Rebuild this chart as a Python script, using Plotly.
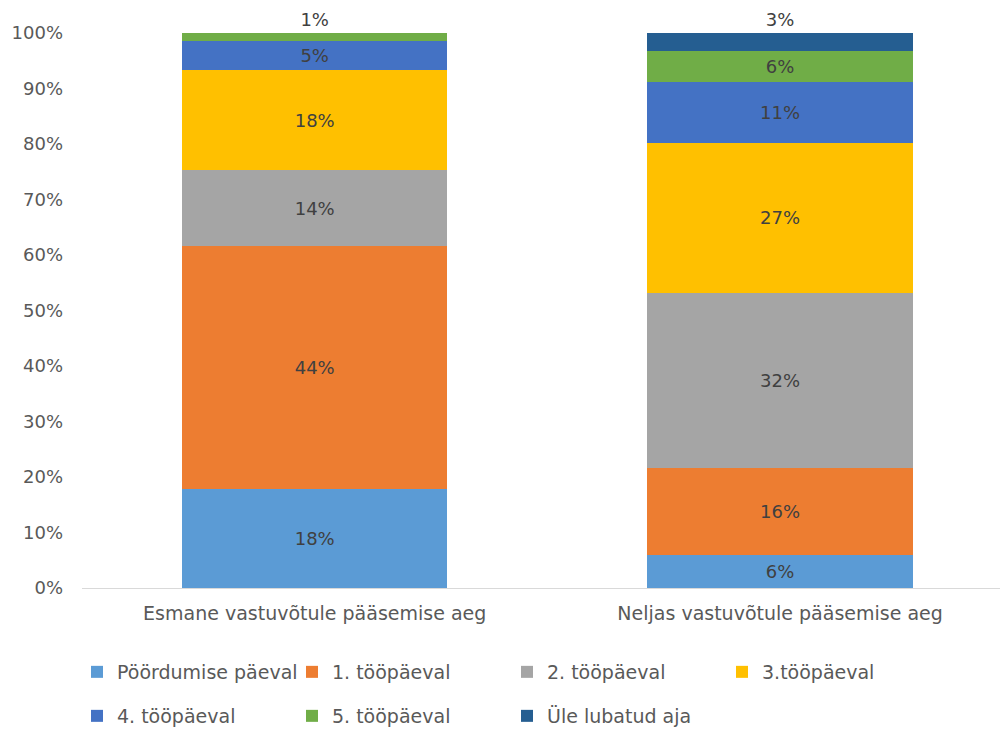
import plotly.graph_objects as go

categories = ["Esmane vastuvõtule pääsemise aeg", "Neljas vastuvõtule pääsemise aeg"]
series_names = ["Pöördumise päeval", "1. tööpäeval", "2. tööpäeval", "3.tööpäeval",
                "4. tööpäeval", "5. tööpäeval", "Üle lubatud aja"]
esmane = [17.8, 43.8, 13.7, 18.0, 5.3, 1.4, None]
neljas = [5.9, 15.7, 31.6, 27.0, 11.0, 5.6, 3.2]
colors = ["#5B9BD5", "#ED7D31", "#A5A5A5", "#FFC000", "#4472C4", "#70AD47", "#255E91"]
y_ticks = [0, 10, 20, 30, 40, 50, 60, 70, 80, 90, 100]
y_tick_labels = [f"{t}%" for t in y_ticks]

FONT = "DejaVu Sans"
fig = go.Figure()
columns = [esmane, neljas]
for i, name in enumerate(series_names):
    vals = [col[i] for col in columns]
    texts = ["" if v is None else f"{round(v)}%" for v in vals]
    positions = []
    for col in columns:
        is_top = all(v is None for v in col[i + 1:])
        positions.append("outside" if is_top else "inside")
    fig.add_trace(go.Bar(
        x=categories, y=vals, name=name,
        marker=dict(color=colors[i], line=dict(width=0)),
        text=texts, textposition=positions,
        insidetextanchor="middle",
        textfont=dict(family=FONT, size=18, color="#404040"),
        cliponaxis=False, width=0.57,
        legend="legend" if i < 4 else "legend2",
    ))

leg_common = dict(orientation="h", xref="container", yref="container",
                  xanchor="left", yanchor="middle", entrywidth=170, entrywidthmode="pixels",
                  font=dict(size=19, family=FONT, color="#595959"), traceorder="normal",
                  itemwidth=30)
fig.update_layout(
    barmode="stack",
    width=1000, height=729,
    margin=dict(l=82, r=0, t=33, b=141),
    paper_bgcolor="white", plot_bgcolor="white",
    font=dict(family=FONT, color="#595959", size=18),
    uniformtext=dict(mode="show", minsize=18),
    xaxis=dict(range=[-0.5, 1.4726], showline=True, linecolor="#D9D9D9", linewidth=1,
               ticks="", ticklabelstandoff=8,
               tickfont=dict(size=19, family=FONT, color="#595959")),
    yaxis=dict(range=[0, 100], tickvals=y_ticks, ticktext=y_tick_labels, showgrid=False,
               zeroline=False, ticks="", ticklabelstandoff=18,
               tickfont=dict(size=18, family=FONT, color="#595959")),
    legend=dict(leg_common, x=0.077, y=1 - 672 / 729),
    legend2=dict(leg_common, x=0.077, y=1 - 716 / 729),
)
fig.write_html("out.html")
